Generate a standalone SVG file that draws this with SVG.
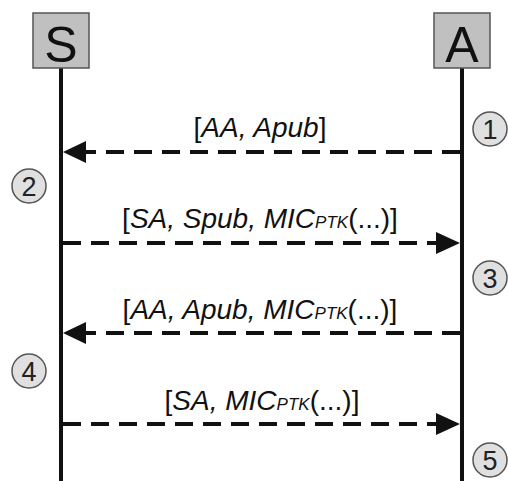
<svg xmlns="http://www.w3.org/2000/svg" width="508" height="481" viewBox="0 0 508 481">
<style>
.box{fill:#c0c0c0;stroke:#555;stroke-width:1.5}
.big{font-family:"Liberation Sans",Arial,sans-serif;font-size:50px;fill:#111;text-anchor:middle}
.life{stroke:#111;stroke-width:4}
.msg{stroke:#111;stroke-width:4;stroke-dasharray:18 10;fill:none}
.head{fill:#111}
.lbl{font-family:"Liberation Sans",Arial,sans-serif;font-size:28px;fill:#111;text-anchor:middle}
.it{font-style:italic}
.sub{font-style:italic;font-size:17px}
.step{fill:#e0e0e0;stroke:#555;stroke-width:1.5}
.num{font-family:"Liberation Sans",Arial,sans-serif;font-size:27px;fill:#222;text-anchor:middle}
</style>
<rect width="508" height="481" fill="#fff"/>
<g id="S">
<line class="life" x1="61" y1="68" x2="61" y2="481"/>
<rect class="box" x="33" y="13" width="56" height="55"/>
<text class="big" x="61" y="62">S</text>
</g>
<g id="A">
<line class="life" x1="462" y1="68" x2="462" y2="481"/>
<rect class="box" x="434" y="13" width="56" height="55"/>
<text class="big" x="462" y="62">A</text>
</g>
<g id="steps">
<g id="step1"><circle class="step" cx="490" cy="129" r="17"/><text class="num" x="490" y="139">1</text></g>
<g id="step2"><circle class="step" cx="29" cy="186" r="17"/><text class="num" x="29" y="196">2</text></g>
<g id="step3"><circle class="step" cx="490" cy="278" r="17"/><text class="num" x="490" y="288">3</text></g>
<g id="step4"><circle class="step" cx="29" cy="371" r="17"/><text class="num" x="29" y="381">4</text></g>
<g id="step5"><circle class="step" cx="490" cy="460" r="17"/><text class="num" x="490" y="470">5</text></g>
</g>
<g id="connectors">
<line class="msg" x1="460" y1="152" x2="86" y2="152"/>
<polygon class="head" points="63,152 86,141 86,163"/>
<line class="msg" x1="63" y1="243" x2="436" y2="243"/>
<polygon class="head" points="460,243 436,232 436,254"/>
<line class="msg" x1="460" y1="333" x2="86" y2="333"/>
<polygon class="head" points="63,333 86,322 86,344"/>
<line class="msg" x1="63" y1="424" x2="436" y2="424"/>
<polygon class="head" points="460,424 436,413 436,435"/>
</g>
<g id="labels">
<text class="lbl" x="260" y="137">[<tspan class="it">AA, Apub</tspan>]</text>
<text class="lbl" x="260" y="228">[<tspan class="it">SA, Spub, MIC</tspan><tspan class="sub">PTK</tspan>(...)]</text>
<text class="lbl" x="260" y="319">[<tspan class="it">AA, Apub, MIC</tspan><tspan class="sub">PTK</tspan>(...)]</text>
<text class="lbl" x="262" y="410">[<tspan class="it">SA, MIC</tspan><tspan class="sub">PTK</tspan>(...)]</text>
</g>
</svg>
